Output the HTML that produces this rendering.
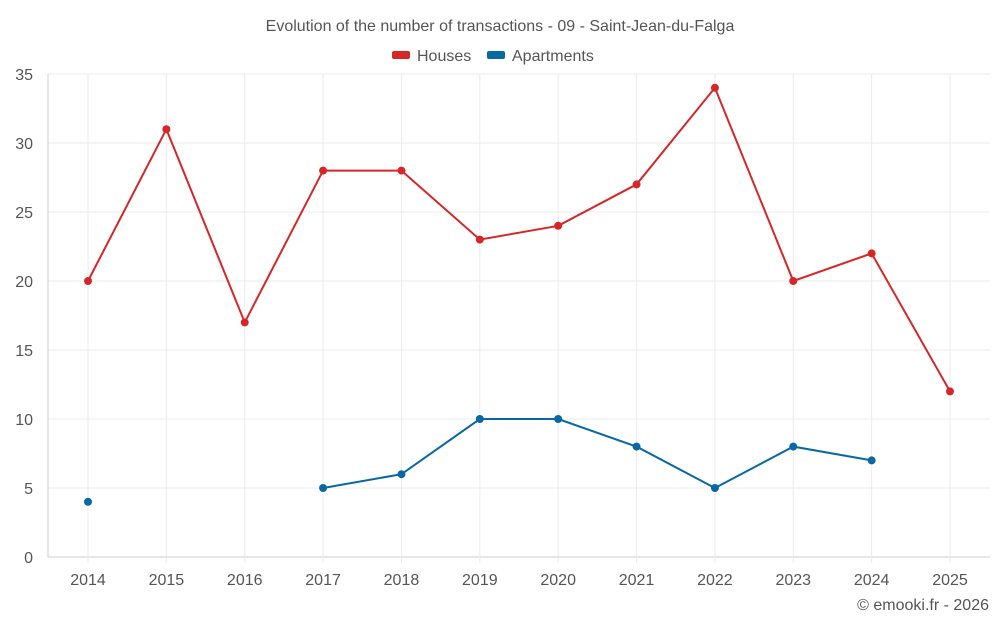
<!DOCTYPE html>
<html><head><meta charset="utf-8"><style>
body{margin:0;background:#fff;font-family:"Liberation Sans",Roboto,sans-serif}
svg text{font-family:"Liberation Sans",sans-serif}
</style></head><body>
<svg id="c" width="1000" height="625">
<text x="500" y="31" text-anchor="middle" font-size="16" fill="#555">Evolution of the number of transactions - 09 - Saint-Jean-du-Falga</text>
<g>
<g><rect x="392" y="51" width="18" height="8" rx="2" fill="#d62728"/><text x="417" y="61" font-size="16" fill="#555">Houses</text></g>
<g><rect x="487" y="51" width="18" height="8" rx="2" fill="#0868a6"/><text x="512" y="61" font-size="16" fill="#555">Apartments</text></g>
</g>
<g id="grid"></g><g id="axes"></g><g id="series"></g>
<text x="989" y="610" text-anchor="end" font-size="16" fill="#555">© emooki.fr - 2026</text>
</svg>
<script>
const years=[2014,2015,2016,2017,2018,2019,2020,2021,2022,2023,2024,2025];
const houses=[20,31,17,28,28,23,24,27,34,20,22,12];
const apartments=[4,null,null,5,6,10,10,8,5,8,7,null];
const yTicks=[0,5,10,15,20,25,30,35];
const NS="http://www.w3.org/2000/svg";
const L=48,R=990,T=74,B=557,yMax=35;
const x=i=>88+i*(950-88)/(years.length-1);
const y=v=>B-(v/yMax)*(B-T);
function mk(t,a,p){const e=document.createElementNS(NS,t);for(const k in a)e.setAttribute(k,a[k]);p.appendChild(e);return e;}
const g=document.getElementById('grid'),ax=document.getElementById('axes'),s=document.getElementById('series');
yTicks.forEach(v=>{
 const l=mk('line',{x1:L,x2:R,y1:y(v),y2:y(v),stroke:v===0?'#ccc':'#ebebeb'},g);
 
 
 const t=mk('text',{x:33,y:y(v)+6,'text-anchor':'end','font-size':16,fill:'#555'},ax);
 t.textContent=v;
 
 
});
years.forEach((yr,i)=>{
 const l=mk('line',{x1:x(i),x2:x(i),y1:T,y2:B+6,stroke:'#ebebeb'},g);
 
 
 const t=mk('text',{x:x(i),y:585,'text-anchor':'middle','font-size':16,fill:'#555'},ax);
 t.textContent=yr;
 
 
});
const yl=mk('line',{x1:L,x2:L,y1:T,y2:B,stroke:'#ccc'},ax);


function draw(data,color,name){
 let d='',pen=false;
 data.forEach((v,i)=>{if(v==null){pen=false;return;}d+=(pen?'L':'M')+x(i)+' '+y(v);pen=true;});
 const p=mk('path',{d:d,fill:'none',stroke:color,'stroke-width':2},s);
 
 
 data.forEach((v,i)=>{if(v==null)return;
  const c=mk('circle',{cx:x(i),cy:y(v),r:4,fill:color},s);
  
  
 });
}
draw(houses,'#d62728','houses');
draw(apartments,'#0868a6','apartments');
</script>
</body></html>
